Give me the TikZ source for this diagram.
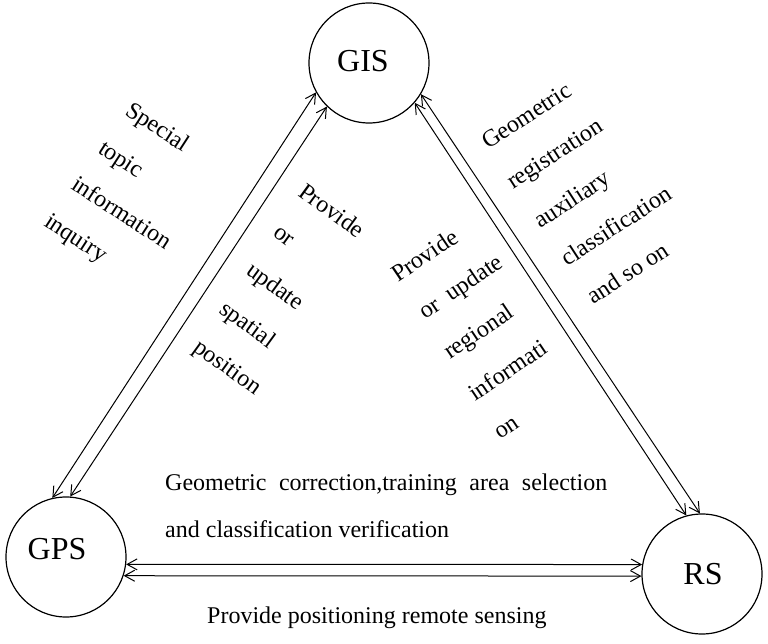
\documentclass[tikz,border=0pt]{standalone}
\usepackage{fontspec}
\setmainfont{Liberation Serif}
\usetikzlibrary{arrows.meta}
\begin{document}
\begin{tikzpicture}[x=1pt,y=1pt,
  circ/.style={draw,circle,line width=1.2pt,minimum size=120pt,inner sep=0pt},
  clabel/.style={font=\fontsize{32}{36}\selectfont,inner sep=0pt},
  dbl/.style={line width=1pt,{Straight Barb[length=10pt,width=11pt]}-{Straight Barb[length=10pt,width=11pt]}},
  txt/.style={font=\fontsize{24}{28}\selectfont,inner sep=0pt,anchor=base west}]
\useasboundingbox (0,0) rectangle (768,643);
% circles
\node[circ] (GIS) at (369,580) {};
\node[circ] (GPS) at (66,86) {};
\node[circ] (RS) at (702,69) {};
\node[clabel] (GISt) at ([xshift=-6pt,yshift=2pt]GIS.center) {GIS};
\node[clabel] (GPSt) at ([xshift=-9pt,yshift=8pt]GPS.center) {GPS};
\node[clabel] (RSt) at ([xshift=1pt,yshift=0pt]RS.center) {RS};
% connectors
\draw[dbl] (GPS.103) -- (GIS.209);
\draw[dbl] (GPS.86) -- (GIS.226);
\draw[dbl] (GIS.-41) -- (RS.105);
\draw[dbl] (GIS.-31) -- (RS.92);
\draw[dbl] (GPS.-7) -- (RS.171);
\draw[dbl] (GPS.-18) -- (RS.182);
% block 1
\node[txt,rotate=-33] (a1) at (124,529) {Special};
\node[txt,rotate=-33] (a2) at (97,491) {topic};
\node[txt,rotate=-33] (a3) at (70,455) {information};
\node[txt,rotate=-33] (a4) at (43,418) {inquiry};
% block 2
\node[txt,rotate=-36] (b1) at (297,448) {Provide};
\node[txt,rotate=-36] (b2) at (272,408) {or};
\node[txt,rotate=-36] (b3) at (245,370) {update};
\node[txt,rotate=-36] (b4) at (218,331) {spatial};
\node[txt,rotate=-36] (b5) at (192,293) {position};
% block 3
\node[txt,rotate=34] (c1) at (398,360) {Provide};
\node[txt,rotate=34] (c2) at (425,323) {or\ \ update};
\node[txt,rotate=34] (c3) at (450,283) {regional};
\node[txt,rotate=34] (c4) at (475,241) {informati};
\node[txt,rotate=34] (c5) at (500,203) {on};
% block 4
\node[txt,rotate=33] (d1) at (488,493) {Geometric};
\node[txt,rotate=33] (d2) at (513,453) {registration};
\node[txt,rotate=33] (d3) at (540,414) {auxiliary};
\node[txt,rotate=33] (d4) at (567,376) {classification};
\node[txt,rotate=33] (d5) at (593,338) {and so on};
% bottom texts
\node[txt] (e1) at (165,153) {\makebox[442pt][s]{Geometric correction,training area selection}};
\node[txt] (e2) at (165,106) {and classification verification};
\node[txt] (f1) at (207,20) {Provide positioning remote sensing};
\end{tikzpicture}
\end{document}
